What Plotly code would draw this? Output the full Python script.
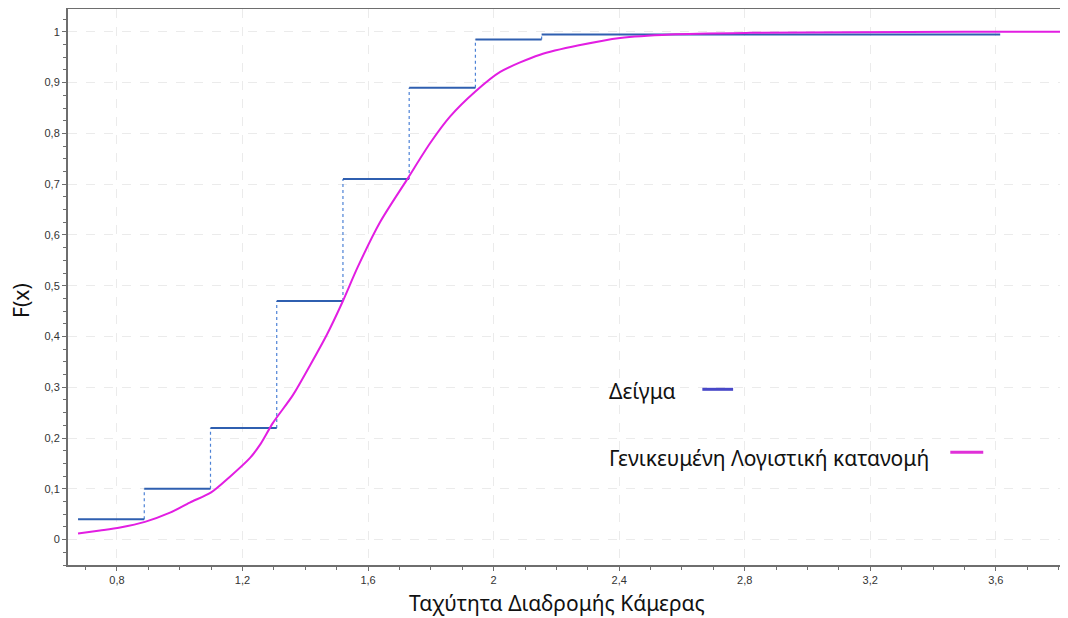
import plotly.graph_objects as go

# Empirical CDF (sample) step data
step_edges = [0.676, 0.887, 1.098, 1.309, 1.520, 1.731, 1.942, 2.153, 3.614]
step_values = [0.04, 0.10, 0.22, 0.47, 0.71, 0.89, 0.985, 0.995]

# Generalized logistic CDF
curve_x = [0.676, 0.746, 0.81, 0.889, 0.969, 1.032, 1.10, 1.16, 1.224, 1.256, 1.297,
           1.361, 1.415, 1.469, 1.517, 1.568, 1.638, 1.724, 1.798, 1.861, 1.941,
           2.021, 2.148, 2.276, 2.403, 2.563, 2.817, 3.136, 3.50, 3.83]
curve_y = [0.012, 0.018, 0.024, 0.035, 0.053, 0.073, 0.093, 0.124, 0.161, 0.187, 0.230,
           0.285, 0.343, 0.404, 0.466, 0.538, 0.625, 0.709, 0.781, 0.833, 0.882,
           0.921, 0.955, 0.974, 0.988, 0.995, 0.998, 0.999, 1.0, 1.0]

x_label = "Ταχύτητα Διαδρομής Κάμερας"
y_label = "F(x)"
legend_names = ["Δείγμα", "Γενικευμένη Λογιστική κατανομή"]

step_color = "#2f5fb0"
vert_color = "#4d82d6"
curve_color = "#e21ee2"

# build horizontal segments
hx, hy = [], []
for i, v in enumerate(step_values):
    hx += [step_edges[i], step_edges[i + 1], None]
    hy += [v, v, None]
# vertical connectors
vx, vy = [], []
for i in range(len(step_values) - 1):
    e = step_edges[i + 1]
    vx += [e, e, None]
    vy += [step_values[i], step_values[i + 1], None]

fig = go.Figure()
fig.add_trace(go.Scatter(x=vx, y=vy, mode="lines",
                         line=dict(color=vert_color, width=1.2, dash="dot"),
                         showlegend=False, hoverinfo="skip"))
fig.add_trace(go.Scatter(x=hx, y=hy, mode="lines",
                         line=dict(color=step_color, width=2),
                         name=legend_names[0], showlegend=False))
fig.add_trace(go.Scatter(x=curve_x, y=curve_y, mode="lines",
                         line=dict(color=curve_color, width=2, shape="spline", smoothing=0.8),
                         name=legend_names[1], showlegend=False))

legend_font = dict(family="Noto Sans, Open Sans, sans-serif", size=21, color="#111111")
title_font = dict(family="Noto Sans, Open Sans, sans-serif", size=21, color="#111111")

# Legend built as text + line shapes (symbol on right side of text)
fig.add_annotation(x=2.362, y=0.293, xref="x", yref="y", text=legend_names[0],
                   showarrow=False, xanchor="left", yanchor="middle", font=legend_font)
fig.add_annotation(x=2.362, y=0.160, xref="x", yref="y", text=legend_names[1],
                   showarrow=False, xanchor="left", yanchor="middle", font=legend_font)
fig.add_shape(type="line", x0=2.665, x1=2.763, y0=0.296, y1=0.296, xref="x", yref="y",
              line=dict(color="#4848c8", width=3))
fig.add_shape(type="line", x0=3.455, x1=3.560, y0=0.172, y1=0.172, xref="x", yref="y",
              line=dict(color="#e030d8", width=3))

# Axis titles as annotations (fixed positions)
fig.add_annotation(x=0.489, y=-0.068, xref="paper", yref="paper", text=x_label,
                   showarrow=False, xanchor="center", yanchor="middle", font=title_font)
fig.add_annotation(x=-0.047, y=0.475, xref="paper", yref="paper", text=y_label,
                   showarrow=False, xanchor="center", yanchor="middle", textangle=-90,
                   font=title_font)

tick_font = dict(family="Liberation Sans, Arial, sans-serif", size=11, color="#333333")

# page body has an 8px margin, so the figure is sized/offset accordingly
fig.update_layout(
    width=1060, height=610,
    margin=dict(l=60, r=0, t=1, b=53, autoexpand=False),
    paper_bgcolor="white", plot_bgcolor="white",
    separators=",.",
    showlegend=False,
)
fig.update_xaxes(
    range=[0.644, 3.83], tick0=0.8, dtick=0.4, automargin=False,
    showgrid=True, gridcolor="#ebebeb", griddash="dash", gridwidth=1,
    zeroline=False, showline=True, linecolor="#6e6e6e", linewidth=2, mirror=True,
    ticks="outside", ticklen=4, tickcolor="#6e6e6e", tickfont=tick_font,
    minor=dict(dtick=0.1, tick0=0.8, ticks="outside", ticklen=3, tickcolor="#6e6e6e", showgrid=False),
)
fig.update_yaxes(
    range=[-0.05, 1.045], tick0=0, dtick=0.1, automargin=False,
    showgrid=True, gridcolor="#ebebeb", griddash="dash", gridwidth=1,
    zeroline=False, showline=True, linecolor="#6e6e6e", linewidth=2,
    ticks="outside", ticklen=4, tickcolor="#6e6e6e", tickfont=tick_font,
    minor=dict(dtick=0.025, tick0=0, ticks="outside", ticklen=3, tickcolor="#6e6e6e", showgrid=False),
)

fig.write_html("out.html")
